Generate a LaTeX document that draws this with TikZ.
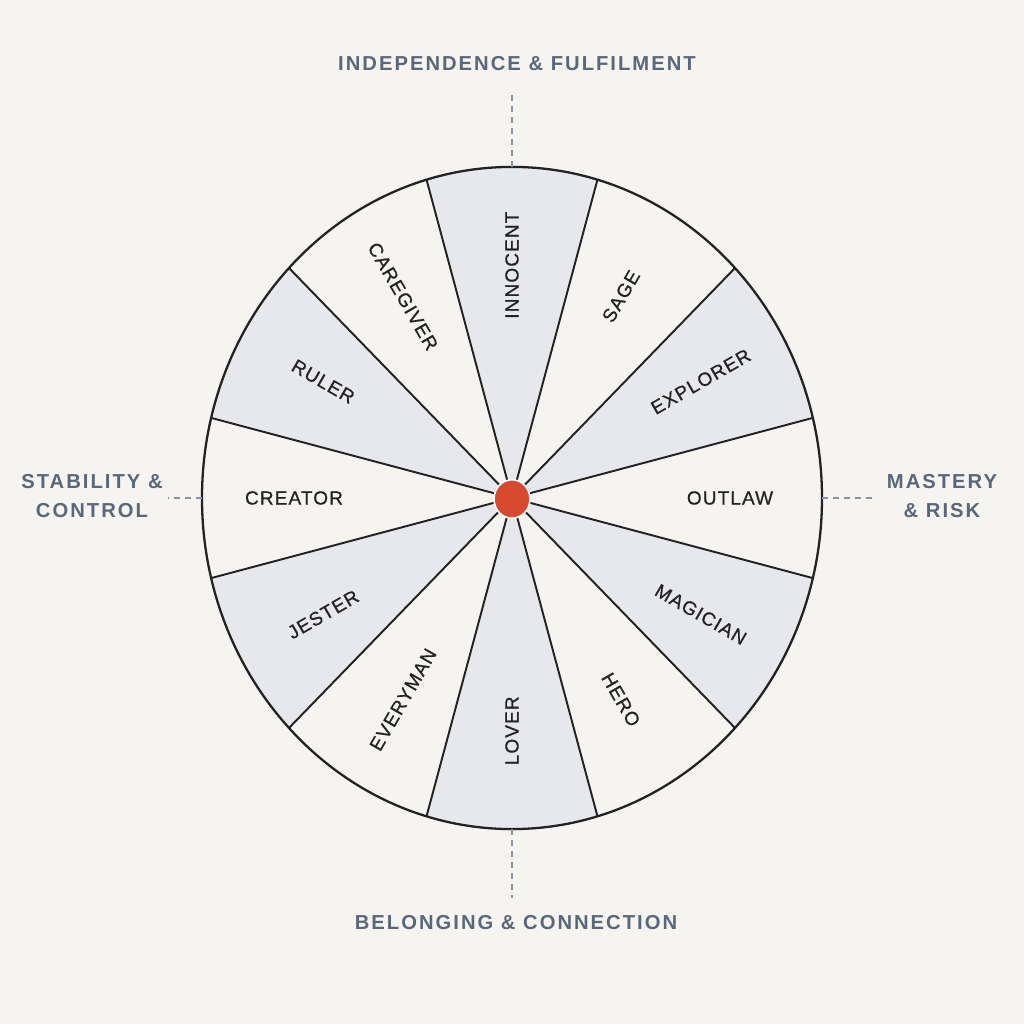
\documentclass[tikz,border=0pt]{standalone}
\usepackage{fontspec}
\newfontfamily\archfont[LetterSpace=6, FakeBold=0.7]{Liberation Sans}
\newfontfamily\axisfont[LetterSpace=10]{Liberation Sans Bold}
\usetikzlibrary{shapes.geometric}
\definecolor{paper}{HTML}{F6F4F1}
\definecolor{wedge}{HTML}{E7E8EE}
\definecolor{ink}{HTML}{222222}
\definecolor{slate}{HTML}{5A6779}
\definecolor{dashgrey}{HTML}{8A93A0}
\definecolor{ember}{HTML}{D84A30}
\tikzset{arch/.style = {font=\archfont\fontsize{10.8}{13}\selectfont, text=ink, inner sep=0pt}}
\tikzset{axis/.style = {font=\axisfont\fontsize{11.5}{16.5}\selectfont, text=slate, align=center, inner sep=0pt}}
\tikzset{spoke/.style = {draw=ink, line width=1.1pt}}
\tikzset{rim/.style = {draw=ink, line width=1.3pt}}
\tikzset{guide/.style = {draw=dashgrey, line width=0.8pt, dash pattern=on 3.4pt off 2.9pt}}
\tikzset{hub/.style = {ellipse, fill=ember, draw=white, line width=0.9pt, minimum width=0.72cm, minimum height=0.77cm, inner sep=0pt}}

\begin{document}
\begin{tikzpicture}[x=0.02cm, y=0.02cm]
  \fill[paper] (-512,-526) rectangle (512,498);
  \begin{scope}[yscale=1.068]
    \foreach \s/\e in {14/44, 74/106, 136/166, 194/224, 254/286, 316/346}
      \fill[wedge] (0,0) -- (\s:310) arc[start angle=\s, end angle=\e, radius=310] -- cycle;
    \foreach \a in {14,44,74,106,136,166,194,224,254,286,316,346}
      \draw[spoke] (0,0) -- (\a:310);
    \draw[rim] (0,0) circle[radius=310];
    \coordinate (rimN) at (90:310);
    \coordinate (rimS) at (-90:310);
    \coordinate (rimW) at (180:310);
    \coordinate (rimE) at (0:310);
    \foreach \a/\r/\name in {90/90/INNOCENT, 60/60/SAGE, 30/30/EXPLORER, 0/0/OUTLAW,
        -30/-30/MAGICIAN, -60/-60/HERO, -90/90/LOVER, -120/60/EVERYMAN,
        -150/30/JESTER, 180/0/CREATOR, 150/-30/RULER, 120/-60/CAREGIVER}
      \node[arch, rotate=\r] (\name) at (\a:218) {\name};
  \end{scope}
  \node[hub] (hub) at (0,-1) {};

  \node[axis] (indep) at (5,434) {INDEPENDENCE \& FULFILMENT};
  \node[axis] (belong) at (4,-425) {BELONGING \& CONNECTION};
  \node[axis] (stable) at (-420,2) {STABILITY \&\\CONTROL};
  \node[axis] (master) at (430,2) {MASTERY\\\& RISK};

  \coordinate (tipN) at (0,407);
  \coordinate (tipS) at (0,-400);
  \coordinate (tipW) at (-344,0);
  \coordinate (tipE) at (365,0);
  \draw[guide] (rimN) -- (tipN);
  \draw[guide] (rimS) -- (tipS);
  \draw[guide] (rimW) -- (tipW);
  \draw[guide] (rimE) -- (tipE);
\end{tikzpicture}
\end{document}
